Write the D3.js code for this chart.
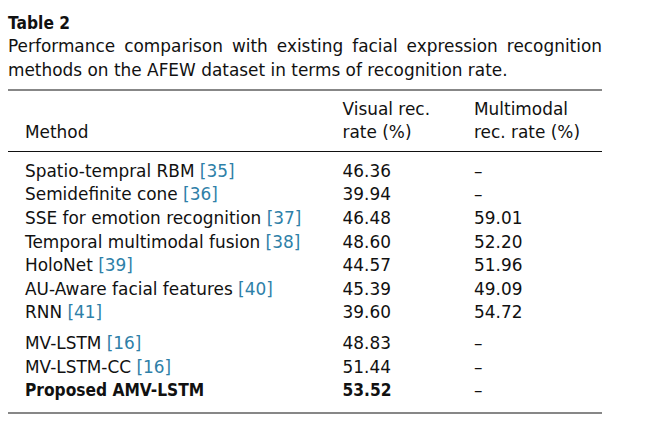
<!DOCTYPE html>
<html>
<head>
<meta charset="utf-8">
<script src="https://cdn.jsdelivr.net/npm/d3@7"></script>
<style>
  html, body { margin: 0; padding: 0; background: #fff; }
  svg text { font-family: "DejaVu Sans", sans-serif; fill: #111; }
</style>
</head>
<body>
<div id="chart"></div>
<script>
// --- datos de la tabla ---
const tableTitle = "Table 2";
const captionLines = [
  "Performance comparison with existing facial expression recognition",
  "methods on the AFEW dataset in terms of recognition rate."
];
const columnKeys = ["method", "visual", "multi"];
const headerTop = ["", "Visual rec.", "Multimodal"];
const headerBottom = ["Method", "rate (%)", "rec. rate (%)"];

const methods = [
  "Spatio-tempral RBM", "Semidefinite cone", "SSE for emotion recognition",
  "Temporal multimodal fusion", "HoloNet", "AU-Aware facial features", "RNN",
  "MV-LSTM", "MV-LSTM-CC", "Proposed AMV-LSTM"
];
const refs = ["[35]", "[36]", "[37]", "[38]", "[39]", "[40]", "[41]", "[16]", "[16]", ""];
const visualRates = ["46.36", "39.94", "46.48", "48.60", "44.57", "45.39", "39.60", "48.83", "51.44", "53.52"];
const multimodalRates = ["–", "–", "59.01", "52.20", "51.96", "49.09", "54.72", "–", "–", "–"];
const rowGroups = [0, 0, 0, 0, 0, 0, 0, 1, 1, 1];
const boldRows = [9];

const width = 668, height = 438;
const FS = 17.8;      // tamaño de fuente
const SX = 0.95;      // compresión horizontal del texto regular
const SXB = 0.87;     // compresión horizontal del texto en negrita
const left = 8, right = 602;
const refColor = "#2e80a8";

const svg = d3.select("#chart").append("svg")
  .attr("width", width)
  .attr("height", height);

// helper: texto con compresión horizontal
function addText(g, x, y, str, opts = {}) {
  const sx = opts.bold ? SXB : SX;
  return g.append("text")
    .attr("transform", `translate(${x},${y}) scale(${sx},1)`)
    .style("font-size", FS + "px")
    .style("font-weight", opts.bold ? "700" : "400")
    .style("fill", opts.color || "#111")
    .text(str);
}

// --- título ---
addText(svg, left, 29, tableTitle, { bold: true });

// --- leyenda justificada (primera línea) y normal (segunda) ---
const captionY = d3.scaleLinear().domain([0, 1]).range([52, 75.5]);
captionLines.forEach((line, i) => {
  const words = line.split(" ");
  const nodes = words.map(w => addText(svg, 0, captionY(i), w));
  const widths = nodes.map(n => n.node().getComputedTextLength() * SX);
  const total = d3.sum(widths);
  const natural = FS * 0.318 * SX;
  const gap = i < captionLines.length - 1 ? (right - left - total) / (words.length - 1) : natural;
  let x = left;
  nodes.forEach((n, j) => {
    n.attr("transform", `translate(${x},${captionY(i)}) scale(${SX},1)`);
    x += widths[j] + gap;
  });
});

// --- reglas horizontales ---
const rules = [90, 151.5, 413];
svg.selectAll("line.rule")
  .data(rules).enter().append("line")
  .attr("class", "rule")
  .attr("x1", left).attr("x2", right)
  .attr("y1", d => d).attr("y2", d => d)
  .attr("stroke", "#111")
  .attr("stroke-width", 1.2);

// --- escalas de columnas y filas ---
const x = d3.scaleOrdinal().domain(columnKeys).range([25, 342.5, 474]);
const groupGap = 0.31;
const y = d3.scaleLinear().domain([0, 1]).range([176.7, 200.3]);
const rowY = i => y(i + rowGroups[i] * groupGap);

// --- cabecera ---
columnKeys.forEach((k, j) => {
  if (headerTop[j]) addText(svg, x(k), 115, headerTop[j]);
  addText(svg, x(k), 138, headerBottom[j]);
});

// --- filas ---
methods.forEach((m, i) => {
  const bold = boldRows.includes(i);
  const t = addText(svg, x("method"), rowY(i), m, { bold });
  if (refs[i]) {
    const w = t.node().getComputedTextLength() * (bold ? SXB : SX);
    addText(svg, x("method") + w + FS * 0.318 * SX, rowY(i), refs[i], { color: refColor });
  }
  addText(svg, x("visual"), rowY(i), visualRates[i], { bold });
  addText(svg, x("multi"), rowY(i), multimodalRates[i]);
});
</script>
</body>
</html>
